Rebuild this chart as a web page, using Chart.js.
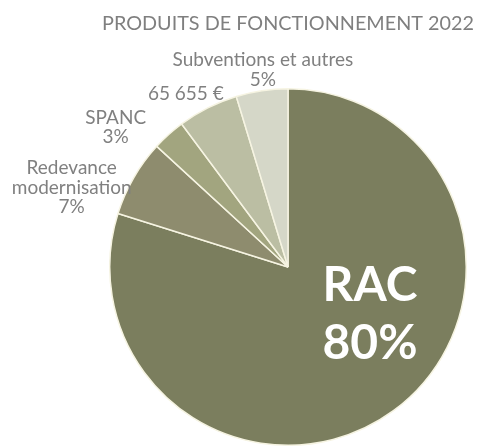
<!DOCTYPE html>
<html lang="fr">
<head>
<meta charset="utf-8">
<title>Produits de fonctionnement 2022</title>
<script src="https://cdn.jsdelivr.net/npm/chart.js@4.4.1/dist/chart.umd.min.js"></script>
<style>
  html, body { margin: 0; padding: 0; background: #fff; }
  #wrap { width: 477px; height: 447px; }
</style>
</head>
<body>
<div id="wrap"><canvas id="produits"></canvas></div>
<script>
// produits de fonctionnement 2022 (en euros)
const categories = [
    ['RAC'],
    ['Redevance', 'modernisation'],
    ['SPANC'],
    [],                          // libellé = montant
    ['Subventions et autres']
];
const values = [955000, 83500, 35800, 65655, 56000];

const sliceColors = ['#7b7e5e', '#8e8c6e', '#a2a57f', '#bbbea3', '#d5d7c8'];

// decalage des etiquettes par rapport au bord de chaque part
const labelOffsets = [[24, -32], [-62, 10], [-53, -7], [-22, -14], [1, -21]];

const total = values.reduce((a, b) => a + b, 0);

function euro(v) {
    return String(v).replace(/\B(?=(\d{3})+(?!\d))/g, ' ') + ' €';
}

const sliceLabels = {
    id: 'sliceLabels',
    afterDatasetsDraw(chart, args, opts) {
        const ctx = chart.ctx;
        const meta = chart.getDatasetMeta(0);
        ctx.save();
        ctx.textAlign = 'center';
        ctx.textBaseline = 'middle';
        meta.data.forEach((arc, i) => {
            const p = arc.getProps(['x', 'y', 'startAngle', 'endAngle', 'outerRadius'], true);
            const mid = (p.startAngle + p.endAngle) / 2;
            const inside = i === 0;
            const r = inside ? p.outerRadius * 0.55 : p.outerRadius;
            const off = opts.offsets[i];
            const cx = p.x + Math.cos(mid) * r + off[0];
            const cy = p.y + Math.sin(mid) * r + off[1];
            const pct = Math.round(values[i] / total * 100) + '%';
            const lines = categories[i].length ? [...categories[i], pct] : [euro(values[i])];
            let lh;
            if (inside) {
                ctx.font = 'bold 48px Lato';
                ctx.fillStyle = '#ffffff';
                lh = 58;
            } else {
                ctx.font = '19px Lato';
                ctx.fillStyle = '#808080';
                lh = 19.5;
            }
            lines.forEach((t, k) => {
                ctx.fillText(t, cx, cy + (k - (lines.length - 1) / 2) * lh);
            });
        });
        ctx.restore();
    }
};

const data = {
    labels: categories.map(c => c.join(' ')),
    datasets: [{
        data: values,
        backgroundColor: sliceColors,
        borderColor: '#f6f4e2',
        borderWidth: 1.5
    }]
};

const config = {
    type: 'pie',
    data: data,
    plugins: [sliceLabels],
    options: {
        responsive: true,
        maintainAspectRatio: false,
        animation: false,
        layout: {
            padding: { left: 102, right: 3, top: 0, bottom: 1 }
        },
        plugins: {
            legend: { display: false },
            tooltip: { enabled: false },
            title: {
                display: true,
                text: 'PRODUITS DE FONCTIONNEMENT 2022',
                align: 'end',
                color: '#7f7f7f',
                font: { family: 'Lato', size: 20, weight: 'normal' },
                padding: { top: 12, bottom: 52 }
            },
            sliceLabels: { offsets: labelOffsets }
        }
    }
};

const produitsChart = new Chart(document.getElementById('produits'), config);
</script>
</body>
</html>
